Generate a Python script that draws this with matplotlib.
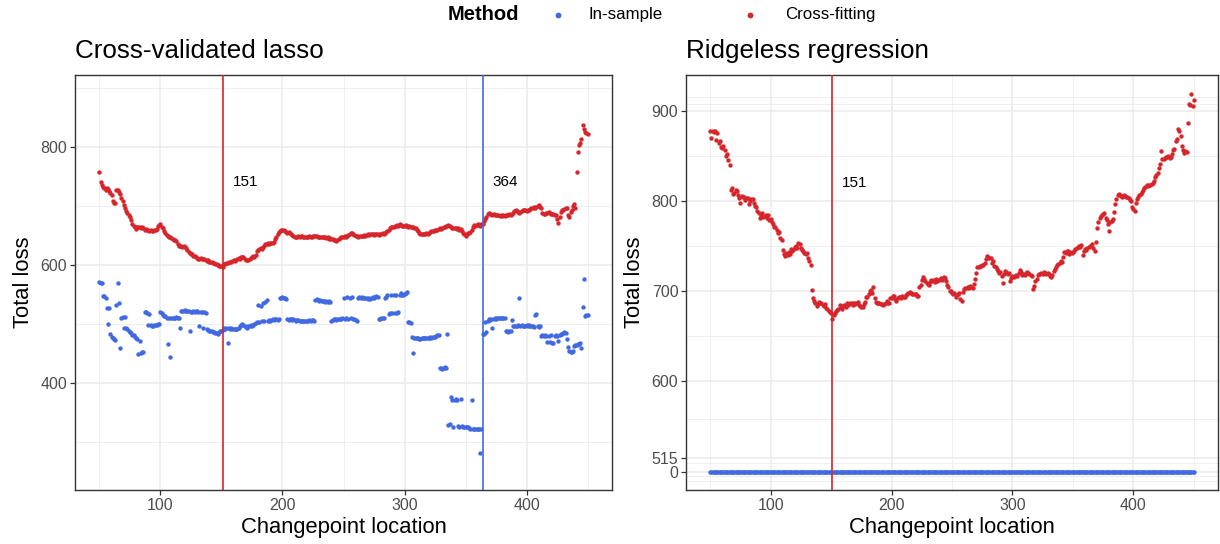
import matplotlib
matplotlib.use("Agg")
import matplotlib.pyplot as plt
import numpy as np
from matplotlib.lines import Line2D

plt.rcParams['font.family'] = ['Liberation Sans', 'DejaVu Sans']

# changepoint locations
changepoints = np.arange(50, 451)

# cross-validated lasso, cross-fitting loss
lasso_crossfit = [
    757, 740, 735, 733, 730, 728, 731, 729, 726, 722, 718, 708, 706, 705, 728, 727, 724, 720, 714, 708,
    702, 697, 691, 688, 685, 682, 676, 670, 667, 664, 661, 664, 665, 664, 662, 664, 663, 660, 661, 660,
    659, 658, 659, 657, 658, 659, 660, 661, 666, 668, 670, 665, 662, 658, 654, 651, 650, 648, 647, 646,
    645, 643, 642, 640, 636, 633, 632, 633, 631, 632, 630, 629, 626, 623, 621, 619, 618, 616, 615, 613,
    612, 611, 610, 612, 611, 610, 611, 609, 607, 608, 606, 605, 606, 604, 603, 601, 602, 600, 599, 598,
    599, 597, 601, 602, 604, 603, 605, 606, 605, 607, 608, 607, 609, 610, 612, 611, 613, 614, 613, 611,
    609, 608, 609, 611, 612, 614, 615, 613, 617, 624, 626, 627, 629, 628, 630, 632, 635, 636, 637, 636,
    637, 638, 637, 639, 644, 648, 653, 656, 657, 659, 660, 659, 658, 656, 655, 656, 654, 652, 651, 649,
    648, 647, 648, 649, 648, 650, 649, 648, 647, 648, 647, 648, 649, 648, 647, 649, 650, 649, 650, 648,
    647, 648, 647, 648, 647, 648, 646, 647, 645, 646, 645, 644, 643, 642, 641, 643, 644, 646, 647, 648,
    648, 649, 648, 650, 651, 652, 654, 654, 652, 651, 650, 649, 648, 649, 650, 649, 650, 651, 650, 651,
    652, 651, 652, 653, 652, 651, 652, 653, 652, 651, 652, 653, 654, 653, 655, 656, 657, 660, 662, 664,
    665, 664, 666, 667, 668, 667, 669, 668, 667, 666, 667, 668, 666, 665, 666, 664, 665, 664, 663, 662,
    659, 657, 655, 653, 652, 653, 652, 653, 654, 653, 654, 656, 657, 658, 657, 659, 660, 659, 661, 662,
    661, 663, 664, 665, 666, 667, 668, 666, 664, 663, 662, 663, 662, 661, 662, 660, 661, 657, 654, 652,
    650, 652, 654, 655, 656, 660, 665, 668, 667, 668, 669, 668, 667, 670, 669, 675, 678, 682, 686, 688,
    687, 686, 685, 686, 685, 684, 685, 684, 683, 684, 683, 684, 683, 684, 685, 684, 686, 685, 686, 688,
    691, 693, 692, 690, 689, 690, 692, 694, 693, 694, 692, 693, 694, 695, 696, 697, 698, 697, 699, 700,
    701, 699, 696, 689, 686, 687, 688, 689, 690, 688, 687, 686, 687, 685, 684, 678, 671, 682, 690, 693,
    694, 695, 696, 697, 684, 682, 690, 694, 700, 703, 697, 758, 792, 803, 806, 813, 837, 830, 826, 824,
    822,
]

# cross-validated lasso, in-sample loss
lasso_insample = [
    572, 570, 569, 548, 547, 545, 528, 500, 528, 484, 478, 476, 474, 473, 533, 570, 535, 459, 511, 512,
    494, 512, 493, 491, 489, 487, 485, 482, 481, 479, 477, 475, 450, 472, 451, 452, 453, 521, 520, 519,
    498, 517, 498, 497, 497, 498, 499, 498, 500, 501, 520, 519, 516, 514, 514, 510, 466, 511, 445, 510,
    510, 511, 510, 512, 511, 511, 493, 523, 523, 522, 524, 523, 522, 523, 489, 521, 521, 522, 521, 522,
    522, 521, 496, 520, 521, 493, 520, 519, 491, 490, 489, 489, 488, 487, 487, 485, 485, 484, 486, 489,
    488, 490, 493, 492, 493, 468, 493, 492, 493, 492, 491, 492, 491, 492, 494, 496, 498, 500, 499, 497,
    495, 494, 496, 497, 498, 497, 498, 500, 502, 503, 532, 504, 531, 505, 535, 506, 538, 541, 506, 507,
    506, 507, 508, 507, 508, 508, 507, 508, 544, 545, 546, 545, 544, 543, 508, 507, 508, 508, 507, 508,
    507, 506, 507, 507, 506, 505, 506, 505, 505, 506, 505, 506, 507, 506, 507, 507, 506, 541, 542, 541,
    540, 541, 540, 539, 540, 538, 539, 538, 539, 537, 506, 507, 508, 508, 507, 508, 509, 508, 509, 510,
    544, 509, 510, 546, 509, 545, 510, 546, 509, 508, 507, 506, 545, 546, 545, 546, 545, 544, 545, 544,
    543, 544, 543, 545, 546, 545, 546, 547, 546, 508, 509, 510, 510, 511, 545, 546, 549, 517, 518, 549,
    518, 550, 519, 550, 519, 520, 549, 552, 550, 549, 551, 552, 555, 504, 503, 502, 479, 451, 477, 476,
    477, 476, 475, 474, 476, 477, 476, 477, 476, 477, 477, 478, 477, 478, 479, 478, 480, 481, 482, 425,
    426, 424, 425, 427, 426, 483, 329, 330, 376, 372, 326, 372, 373, 372, 327, 326, 373, 327, 326, 325,
    326, 325, 325, 324, 323, 371, 323, 322, 323, 322, 322, 323, 282, 323, 483, 484, 504, 487, 506, 508,
    507, 508, 493, 509, 510, 509, 510, 511, 510, 511, 510, 511, 510, 489, 488, 487, 489, 488, 507, 496,
    497, 496, 497, 498, 545, 497, 498, 497, 496, 497, 498, 497, 498, 497, 496, 497, 495, 516, 517, 496,
    495, 496, 480, 481, 480, 481, 480, 470, 480, 469, 481, 468, 468, 480, 481, 480, 472, 482, 483, 484,
    485, 486, 485, 474, 461, 455, 453, 453, 454, 463, 464, 465, 467, 467, 468, 460, 529, 577, 514, 516,
    515,
]

# ridgeless regression, cross-fitting loss
ridge_crossfit = [
    877, 870, 878, 876, 878, 867, 875, 864, 866, 860, 859, 861, 856, 850, 852, 845, 840, 812, 814, 807,
    809, 812, 811, 806, 803, 798, 805, 804, 804, 801, 803, 803, 796, 800, 802, 802, 797, 794, 793, 789,
    786, 781, 783, 786, 782, 783, 784, 781, 784, 779, 780, 776, 774, 771, 771, 768, 764, 765, 759, 757,
    745, 741, 739, 742, 740, 743, 741, 746, 744, 746, 749, 750, 748, 753, 752, 748, 745, 744, 742, 741,
    742, 736, 733, 729, 701, 692, 689, 686, 683, 685, 688, 686, 687, 684, 683, 685, 681, 680, 678, 677,
    676, 669, 673, 676, 678, 679, 680, 684, 682, 680, 683, 684, 682, 686, 684, 685, 687, 686, 684, 686,
    685, 686, 688, 684, 683, 682, 682, 685, 688, 693, 693, 697, 700, 701, 698, 704, 692, 688, 687, 687,
    687, 685, 685, 684, 685, 687, 689, 687, 687, 692, 692, 694, 694, 691, 689, 692, 693, 693, 692, 694,
    693, 693, 695, 696, 698, 699, 698, 697, 696, 697, 696, 694, 694, 704, 707, 712, 715, 713, 711, 709,
    708, 707, 710, 712, 711, 712, 710, 713, 711, 712, 713, 714, 712, 715, 714, 711, 707, 704, 700, 700,
    698, 696, 698, 693, 695, 697, 698, 691, 689, 699, 702, 703, 703, 704, 703, 705, 704, 703, 708, 713,
    720, 726, 727, 728, 728, 729, 729, 731, 735, 739, 738, 736, 737, 731, 733, 728, 726, 724, 722, 720,
    721, 716, 709, 719, 722, 721, 719, 720, 711, 714, 716, 715, 716, 718, 717, 720, 723, 721, 718, 719,
    718, 720, 721, 720, 719, 718, 717, 702, 705, 711, 713, 718, 719, 719, 720, 719, 721, 720, 719, 720,
    719, 717, 715, 718, 722, 724, 727, 729, 730, 731, 733, 732, 738, 743, 742, 744, 744, 741, 743, 742,
    743, 744, 746, 748, 749, 750, 749, 751, 740, 744, 746, 745, 748, 749, 750, 750, 752, 748, 744, 754,
    770, 776, 781, 783, 784, 785, 786, 781, 779, 774, 767, 776, 778, 780, 787, 796, 802, 806, 808, 806,
    805, 804, 806, 805, 804, 804, 803, 801, 800, 793, 791, 789, 798, 802, 804, 806, 808, 810, 812, 814,
    815, 817, 816, 818, 817, 819, 820, 822, 826, 829, 831, 836, 841, 855, 846, 846, 848, 849, 849, 850,
    848, 849, 852, 856, 858, 866, 869, 880, 878, 872, 861, 856, 853, 855, 854, 886, 907, 906, 919, 905,
    912,
]

# ridgeless interpolates the training data: in-sample loss is zero everywhere
ridge_insample = [0] * len(changepoints)

lasso_marks = [(151, 'Cross-fitting'), (364, 'In-sample')]
ridge_marks = [(151, 'Cross-fitting')]

colors = {'In-sample': '#4169E1', 'Cross-fitting': '#D7262B'}

# ridge panel uses a squashed scale below 515
BREAK = 515
K = 0.0305


def fwd(y):
    y = np.asarray(y, dtype=float)
    return np.where(y >= BREAK, y, BREAK - (BREAK - y) * K)


def inv(f):
    f = np.asarray(f, dtype=float)
    return np.where(f >= BREAK, f, BREAK - (BREAK - f) / K)


W, H = 1220, 544
fig = plt.figure(figsize=(W / 100, H / 100), dpi=100)
ax1 = fig.add_axes([75 / W, 1 - 490 / H, 537 / W, 415 / H])
ax2 = fig.add_axes([686 / W, 1 - 490 / H, 532 / W, 415 / H])

grid_c = '#EBEBEB'
text_c = '#4D4D4D'
PT = 10


def style(ax):
    ax.set_facecolor('white')
    for s in ax.spines.values():
        s.set_color('#333333')
        s.set_linewidth(1.0)
    ax.grid(which='major', color=grid_c, linewidth=1.1, zorder=0)
    ax.grid(which='minor', color=grid_c, linewidth=0.55, zorder=0)
    ax.set_axisbelow(True)
    ax.tick_params(which='major', length=3.5, width=0.9, color='#333333',
                   labelsize=11.5, labelcolor=text_c, pad=2)
    ax.tick_params(which='minor', length=0)
    ax.set_xlim(30, 470)
    ax.set_xticks([100, 200, 300, 400])
    ax.set_xticks([50, 150, 250, 350, 450], minor=True)
    ax.set_xlabel('Changepoint location', fontsize=15.8, labelpad=3)
    ax.set_ylabel('Total loss', fontsize=15.8, labelpad=5)


# left panel
style(ax1)
ax1.scatter(changepoints, lasso_insample, s=PT, color=colors['In-sample'], linewidths=0, zorder=2)
ax1.scatter(changepoints, lasso_crossfit, s=PT, color=colors['Cross-fitting'], linewidths=0, zorder=2)
for loc, method in lasso_marks:
    ax1.axvline(loc, color=colors[method], linewidth=1.2, zorder=3)
    ax1.text(loc + 8, 741, str(loc), fontsize=11, va='center', ha='left')
ax1.set_ylim(219, 922)
ax1.set_yticks([400, 600, 800])
ax1.set_yticks([300, 500, 700, 900], minor=True)
ax1.set_title('Cross-validated lasso', loc='left', fontsize=18.7, pad=12)

# right panel
style(ax2)
ax2.set_yscale('function', functions=(fwd, inv))
ax2.scatter(changepoints, ridge_insample, s=PT, color=colors['In-sample'], linewidths=0, zorder=2)
ax2.scatter(changepoints, ridge_crossfit, s=PT, color=colors['Cross-fitting'], linewidths=0, zorder=2)
for loc, method in ridge_marks:
    ax2.axvline(loc, color=colors[method], linewidth=1.2, zorder=3)
    ax2.text(loc + 8, 820, str(loc), fontsize=11, va='center', ha='left')
ax2.set_ylim(-665, 939.6)
ax2.set_yticks([0, 515, 600, 700, 800, 900])
ax2.set_yticks([-330, -150, 300, 557.5, 650, 750, 850, 907, 915], minor=True)
ax2.set_title('Ridgeless regression', loc='left', fontsize=18.7, pad=12)

# legend across the top
fig.text(519 / W, 1 - 15 / H, 'Method', fontsize=14.5, fontweight='bold', va='center', ha='right')
for xdot, xtxt, method in [(558, 588, 'In-sample'), (750, 785, 'Cross-fitting')]:
    fig.add_artist(Line2D([xdot / W], [1 - 15 / H], marker='o', markersize=4.2, linestyle='none',
                          color=colors[method], markeredgewidth=0, transform=fig.transFigure))
    fig.text(xtxt / W, 1 - 15 / H, method, fontsize=12.2, va='center', ha='left')

fig.savefig('out.png', dpi=100)
